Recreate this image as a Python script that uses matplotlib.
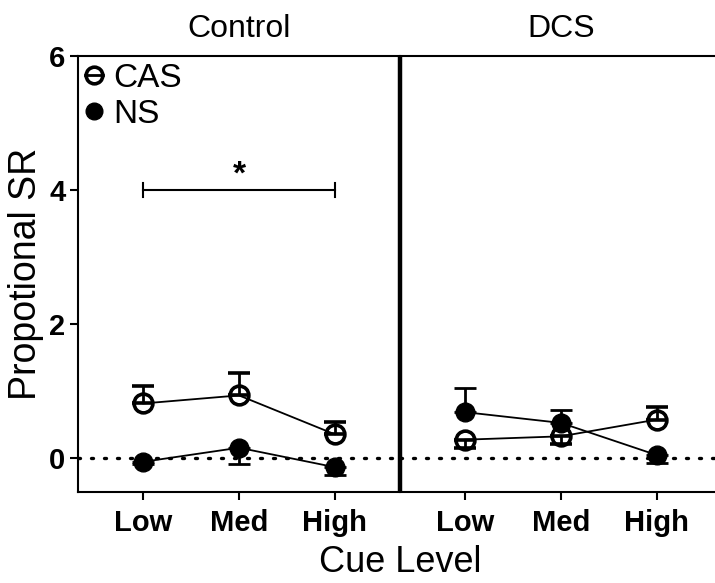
import matplotlib
matplotlib.use("Agg")
import matplotlib.pyplot as plt
import numpy as np
from matplotlib.lines import Line2D

plt.rcParams["font.family"] = ["Liberation Sans", "DejaVu Sans"]

levels = ["Low", "Med", "High"]
panels = ["Control", "DCS"]

# means and one-sided SEM (up / down)
cas_mean = {"Control": [0.82, 0.94, 0.36], "DCS": [0.28, 0.33, 0.58]}
cas_up = {"Control": [0.26, 0.33, 0.19], "DCS": [0.0, 0.0, 0.19]}
cas_down = {"Control": [0.0, 0.0, 0.0], "DCS": [0.13, 0.11, 0.0]}

ns_mean = {"Control": [-0.05, 0.16, -0.13], "DCS": [0.69, 0.53, 0.05]}
ns_up = {"Control": [0.0, 0.0, 0.0], "DCS": [0.36, 0.19, 0.0]}
ns_down = {"Control": [0.03, 0.24, 0.11], "DCS": [0.0, 0.0, 0.12]}

sig_y = 4.0

fig = plt.figure(figsize=(7.15, 5.83), dpi=100)
ax1 = fig.add_axes([78 / 715, 91 / 583, 322 / 715, 436 / 583])
ax2 = fig.add_axes([400 / 715, 91 / 583, 322 / 715, 436 / 583])
ax2.patch.set_visible(False)

x = np.arange(len(levels))
for ax, name in zip([ax1, ax2], panels):
    ax.errorbar(x, cas_mean[name], yerr=[cas_down[name], cas_up[name]],
                color="black", lw=1.3, marker="o", ms=13.5, mfc="none",
                mec="black", mew=2.6, elinewidth=2, capsize=8, capthick=2)
    ax.errorbar(x, ns_mean[name], yerr=[ns_down[name], ns_up[name]],
                color="black", lw=1.3, marker="o", ms=13.5, mfc="black",
                mec="black", elinewidth=2, capsize=8, capthick=2)
    ax.axhline(0, color="black", lw=2.4, ls=(0, (0.6, 3.3)),
               dash_capstyle="round", zorder=0)
    ax.set_xlim(-0.68, 2.68)
    ax.set_ylim(-0.5, 6)
    ax.set_xticks(x)
    ax.set_xticklabels(levels, fontsize=21, fontweight="bold")
    ax.set_title(name, fontsize=23, pad=14)
    for s in ax.spines.values():
        s.set_linewidth(1.5)
    ax.tick_params(axis="x", length=6, width=1.5, pad=6)

ax1.spines["right"].set_linewidth(3.2)
ax1.spines["right"].set_capstyle("butt")
ax1.spines["right"].set_zorder(5)
ax2.spines["left"].set_visible(False)
ax2.set_yticks([])

ax1.set_yticks([0, 2, 4, 6])
ax1.set_yticklabels(["0", "2", "4", "6"], fontsize=21, fontweight="bold")
ax1.tick_params(axis="y", length=6, width=1.5, pad=3)
ax1.set_ylabel("Propotional SR", fontsize=27, labelpad=4)
fig.text(400 / 715, 20 / 583, "Cue Level", fontsize=26, ha="center", va="center")

# significance bracket Low vs High (Control)
ax1.plot([x[0], x[-1]], [sig_y, sig_y], color="black", lw=1.5)
ax1.plot([x[0], x[0]], [sig_y - 0.1, sig_y + 0.1], color="black", lw=1.5)
ax1.plot([x[-1], x[-1]], [sig_y - 0.1, sig_y + 0.1], color="black", lw=1.5)
ax1.text((x[0] + x[-1]) / 2, sig_y + 0.22, "*", fontsize=24, fontweight="bold",
         ha="center", va="center")

handles = [
    Line2D([], [], color="black", lw=2, marker="o", ms=12, mfc="none", mew=2.6),
    Line2D([], [], color="black", lw=0, marker="o", ms=12, mfc="black"),
]
ax1.legend(handles, ["CAS", "NS"], loc="upper left", frameon=False,
           fontsize=24, handlelength=0.55, handletextpad=0.3,
           borderaxespad=0.0, borderpad=0.2, labelspacing=0.15)

fig.savefig("out.png", dpi=100)
